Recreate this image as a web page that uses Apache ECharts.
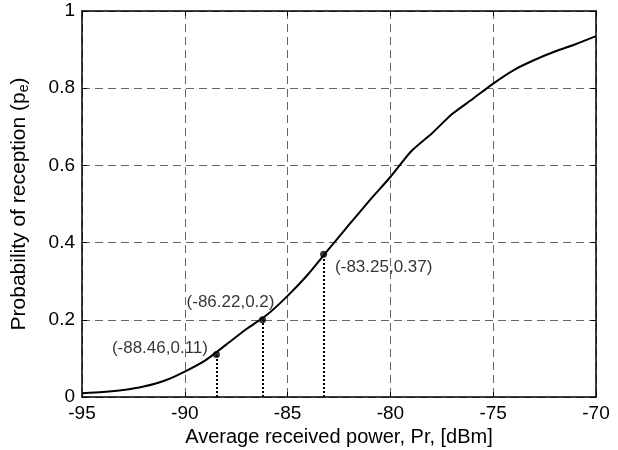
<!DOCTYPE html>
<html>
<head>
<meta charset="utf-8">
<script src="https://cdn.jsdelivr.net/npm/echarts@6/dist/echarts.min.js"></script>
<style>
  html, body { margin: 0; padding: 0; background: #fff; }
  #chart { width: 618px; height: 450px; }
</style>
</head>
<body>
<div id="chart"></div>
<script>
// received power (dBm) and probability of reception
const power = [-95, -94, -93, -92, -91, -90, -89, -88, -87, -86, -85, -84, -83, -82, -81, -80,
  -79, -78, -77, -76, -75, -74, -73, -72, -71, -70];
const prob = [0.01, 0.013, 0.018, 0.027, 0.042, 0.066, 0.095, 0.135, 0.176, 0.213, 0.262, 0.318,
  0.383, 0.447, 0.51, 0.57, 0.636, 0.682, 0.733, 0.772, 0.812, 0.847, 0.873, 0.895, 0.914, 0.935];

// marked points
const markX = [-88.46, -86.22, -83.25];
const markY = [0.11, 0.2, 0.37];
const markLabels = ["(-88.46,0.11)", "(-86.22,0.2)", "(-83.25,0.37)"];

const font = "Liberation Sans, Arial, Helvetica, sans-serif";

const labelPos = [
  { position: "left", offset: [0, -6] },
  { position: "top", offset: [-32, 0] },
  { position: "right", offset: [3, 13] },
];

const chart = echarts.init(document.getElementById("chart"), null, { renderer: "canvas" });

const gridLine = {
  show: true,
  lineStyle: { color: "#666", width: 1, type: [8, 5] },
};
const frameLine = { show: true, onZero: false, lineStyle: { color: "#000", width: 1.5 } };
const innerTick = { show: true, inside: true, length: 5, lineStyle: { color: "#000" } };

const option = {
  animation: false,
  backgroundColor: "#fff",
  textStyle: { fontFamily: font },
  grid: { left: 82, right: 22, top: 11, bottom: 53, outerBoundsMode: "none", containLabel: false },
  xAxis: [
    {
      type: "value",
      min: -95,
      max: -70,
      interval: 5,
      axisLine: frameLine,
      axisTick: innerTick,
      axisLabel: { color: "#000", fontSize: 19, margin: 7, fontFamily: font },
      splitLine: gridLine,
      name: "Average received power, Pr, [dBm]",
      nameLocation: "middle",
      nameGap: 30,
      nameTextStyle: { color: "#000", fontSize: 20, fontFamily: font },
    },
    {
      type: "value",
      position: "top",
      min: -95,
      max: -70,
      interval: 5,
      axisLine: frameLine,
      axisTick: innerTick,
      axisLabel: { show: false },
      splitLine: { show: false },
    },
  ],
  yAxis: [
    {
      type: "value",
      min: 0,
      max: 1,
      interval: 0.2,
      axisLine: frameLine,
      axisTick: innerTick,
      axisLabel: { color: "#000", fontSize: 19, margin: 7, fontFamily: font },
      splitLine: gridLine,
      name: "{a|Probability of reception (p}{s|e}{a|)}",
      nameLocation: "middle",
      nameGap: 51,
      nameTextStyle: {
        color: "#000",
        fontFamily: font,
        rich: {
          a: { fontSize: 21, color: "#000", fontFamily: font, lineHeight: 24 },
          s: { fontSize: 14, color: "#000", fontFamily: font, lineHeight: 24, padding: [10, 0, 0, 0] },
        },
      },
    },
    {
      type: "value",
      position: "right",
      min: 0,
      max: 1,
      interval: 0.2,
      axisLine: frameLine,
      axisTick: innerTick,
      axisLabel: { show: false },
      splitLine: { show: false },
    },
  ],
  series: [
    {
      type: "line",
      data: power.map((p, i) => [p, prob[i]]),
      smooth: 0.2,
      showSymbol: false,
      lineStyle: { color: "#000", width: 2 },
      z: 3,
    },
    {
      type: "scatter",
      data: markX.map((x, i) => ({
        value: [x, markY[i]],
        label: {
          show: true,
          formatter: markLabels[i],
          position: labelPos[i].position,
          offset: labelPos[i].offset,
          color: "#000",
          textBorderWidth: 0,
          fontSize: 17,
          fontFamily: font,
        },
      })),
      symbol: "circle",
      symbolSize: 7,
      itemStyle: { color: "#000" },
      z: 5,
      markLine: {
        silent: true,
        symbol: "none",
        label: { show: false },
        lineStyle: { color: "#000", width: 2, type: [2, 2] },
        data: markX.map((x, i) => [{ coord: [x, 0] }, { coord: [x, markY[i]] }]),
      },
    },
  ],
};

chart.setOption(option);
</script>
</body>
</html>
